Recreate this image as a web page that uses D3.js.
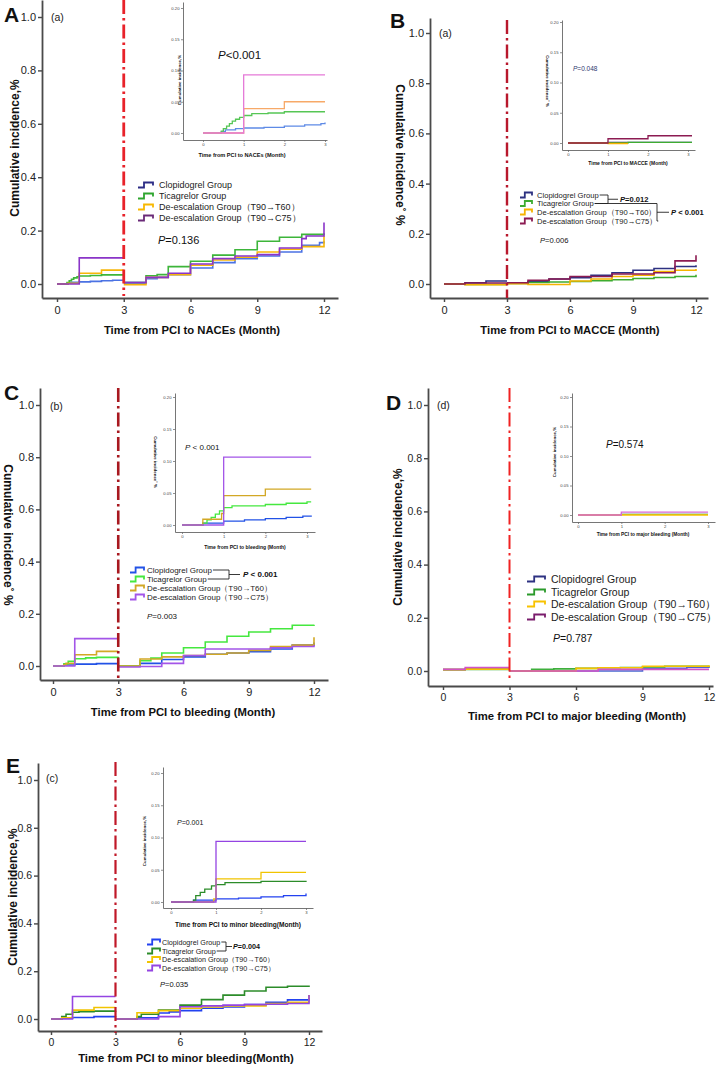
<!DOCTYPE html>
<html>
<head>
<meta charset="utf-8">
<script src="https://cdn.jsdelivr.net/npm/d3@7"></script>
<style>
  body { margin: 0; background: #fff; }
  svg { display: block; }
  text { font-family: "Liberation Sans", Arial, sans-serif; }
</style>
</head>
<body>
<svg id="fig" width="725" height="1065"></svg>
<script>
// ---- data ----
const groups = ["Clopidogrel Group", "Ticagrelor Group", "De-escalation Group（T90→T60）", "De-escalation Group（T90→C75）"];
const mainTicksX = [0, 3, 6, 9, 12];
const mainTicksY = [0, 0.2, 0.4, 0.6, 0.8, 1.0];
const insetTicksX = [0, 1, 2, 3];
const insetTicksY = [0, 0.05, 0.10, 0.15, 0.20];
const landmark = 3; // month where the landmark analysis restarts

// each series: [month, cumulative incidence]; null splits 0-3 and 3-12 segments
const naceMain = [
  [[0,0],[0.5,0.003],[0.6,0.006],[1,0.008],[1.5,0.01],[2,0.012],[2.5,0.014],[3,0.016], null,
   [3,0.005],[4,0.02],[4.5,0.025],[5,0.035],[6,0.06],[7,0.08],[8,0.095],[9,0.105],[10,0.12],[11,0.145],[11.8,0.155],[12,0.16]],
  [[0,0],[0.45,0.005],[0.55,0.012],[0.65,0.018],[0.75,0.023],[0.9,0.027],[1,0.03],[1.5,0.032],[2,0.034],[3,0.034], null,
   [3,0.005],[4,0.031],[4.5,0.035],[5,0.065],[6,0.085],[7,0.108],[8,0.128],[9,0.16],[10,0.175],[11,0.186],[12,0.19]],
  [[0,0],[0.5,0.003],[1,0.04],[2,0.052],[3,0.052], null,
   [3,-0.003],[4,0.025],[5,0.035],[6,0.07],[7,0.09],[8,0.1],[9,0.12],[10,0.13],[11,0.14],[12,0.15],[12,0.18]],
  [[0,0],[1,0.098],[3,0.098], null,
   [3,0.005],[4,0.025],[5,0.04],[6,0.075],[7,0.095],[8,0.105],[9,0.11],[10,0.135],[11,0.17],[11.2,0.18],[12,0.18],[12,0.23]]
];
const naceInset = [
  [[0,0],[0.45,0.002],[0.55,0.005],[0.8,0.007],[1,0.008],[1.5,0.009],[2,0.011],[2.5,0.013],[2.9,0.015],[3,0.017]],
  [[0,0],[0.45,0.003],[0.5,0.007],[0.58,0.011],[0.65,0.015],[0.72,0.019],[0.8,0.022],[0.9,0.025],[1,0.028],[1.2,0.031],[1.6,0.032],[2,0.034],[3,0.034]],
  [[0,0],[1,0.039],[2,0.05],[3,0.05]],
  [[0,0],[1,0.093],[3,0.093]]
];

const macceMain = [
  [[0,0],[1,0.005],[2,0.012],[3,0.012], null,
   [3,0.005],[4,0.01],[5,0.02],[6,0.025],[7,0.035],[8,0.045],[9,0.055],[10,0.062],[11,0.07],[12,0.075]],
  [[0,0],[1,-0.002],[3,-0.002], null,
   [3,0.002],[4,0.006],[5,0.008],[6,0.01],[7,0.013],[8,0.017],[9,0.022],[10,0.026],[11,0.03],[12,0.037]],
  [[0,0],[1,-0.003],[3,-0.003], null,
   [3,0.001],[4,-0.002],[6,0.012],[7,0.02],[8,0.03],[9,0.035],[10,0.05],[11,0.055],[12,0.06]],
  [[0,0],[1,0.004],[3,0.004], null,
   [3,0.005],[4,0.015],[5,0.02],[6,0.03],[7,0.03],[8,0.04],[9,0.04],[10,0.045],[11,0.092],[12,0.095],[12,0.115]]
];
const macceInset = [
  [[0,0],[1,0.001],[3.1,0.001]],
  [[0,0],[1.5,0.001],[3.1,0.001]],
  [[0,0],[1,-0.0008],[1.5,-0.0008]],
  [[0,0],[1,0.007],[2,0.012],[3.1,0.012]]
];

const bleedMain = [
  [[0,0],[0.5,0.004],[1,0.007],[2,0.009],[3,0.012], null,
   [3,0],[4,0.01],[5,0.025],[6,0.035],[7,0.045],[8,0.05],[9,0.055],[10,0.065],[11,0.08],[12,0.09]],
  [[0,0],[0.5,0.008],[0.7,0.018],[1,0.028],[1.5,0.031],[2,0.033],[3,0.035], null,
   [3,0],[4,0.02],[4.5,0.03],[5,0.05],[6,0.07],[7,0.092],[8,0.114],[9,0.13],[10,0.143],[11,0.156],[12,0.158]],
  [[0,0],[0.5,0.005],[0.6,0.01],[1,0.043],[2,0.056],[3,0.056], null,
   [3,0],[4,0.027],[5,0.035],[6,0.04],[7,0.045],[8,0.05],[9,0.06],[10,0.075],[11,0.08],[12,0.085],[12,0.11]],
  [[0,0],[1,0.105],[3,0.105], null,
   [3,-0.004],[4,-0.002],[5,0.01],[6,0.04],[7,0.065],[8,0.065],[9,0.065],[10,0.07],[11,0.075],[12,0.08]]
];
const bleedInset = [
  [[0,0],[0.5,0.003],[1,0.006],[1.5,0.008],[2,0.01],[2.5,0.012],[2.9,0.014],[3.1,0.015]],
  [[0,0],[0.5,0.003],[0.6,0.008],[0.7,0.012],[0.8,0.017],[0.9,0.022],[1,0.027],[1.2,0.03],[2,0.032],[2.5,0.034],[3,0.036],[3.1,0.036]],
  [[0,0],[0.5,0.009],[0.95,0.018],[1,0.046],[2,0.056],[3.1,0.056]],
  [[0,0],[1,0.106],[3.1,0.106]]
];

const majorMain = [
  [[0,0.005],[1,0.008],[3,0.008], null, [3,0],[9,0.01],[11,0.014],[12,0.015]],
  [[0,0.005],[1,0.006],[3,0.006], null, [3,0],[4,0.006],[5,0.008],[6,0.01],[7,0.012],[8,0.013],[9,0.015],[10,0.018],[12,0.02]],
  [[0,0.005],[1,0.007],[3,0.007], null, [3,0],[6,0.01],[7,0.012],[9,0.018],[12,0.022]],
  [[0,0.006],[1,0.013],[3,0.013], null, [3,0],[7,0.006],[12,0.006]]
];
const majorInset = [
  [[0,0],[1,0.001],[3,0.001]],
  [[0,0],[1,0.001],[3,0.001]],
  [[0,0],[3,0]],
  [[0,0],[1,0.005],[3,0.005]]
];

const minorMain = [
  [[0,0],[0.5,0.003],[1,0.006],[2,0.01],[3,0.013], null,
   [3,0],[4,0.005],[5,0.025],[5.5,0.03],[6,0.035],[7,0.045],[8,0.05],[9,0.06],[10,0.07],[11,0.08],[12,0.087]],
  [[0,0],[0.5,0.01],[0.7,0.02],[1,0.028],[1.3,0.031],[2,0.033],[3,0.035], null,
   [3,0],[4,0.01],[4.2,0.02],[5,0.037],[6,0.058],[7,0.081],[8,0.1],[9,0.117],[10,0.133],[11,0.137],[12,0.14]],
  [[0,0],[0.5,0.005],[1,0.037],[2,0.048],[3,0.048], null,
   [3,0],[4,0.026],[5,0.035],[6,0.045],[7,0.05],[8,0.055],[9,0.055],[10,0.065],[11,0.07],[12,0.08],[12,0.1]],
  [[0,0],[1,0.094],[3,0.094], null,
   [3,0],[5,0.01],[6,0.051],[7,0.055],[8,0.058],[9,0.06],[10,0.062],[11,0.065],[12,0.068],[12,0.1]]
];
const minorInset = [
  [[0,0],[0.5,0.003],[1,0.005],[1.5,0.006],[2,0.008],[2.5,0.01],[3,0.013]],
  [[0,0],[0.5,0.003],[0.55,0.01],[0.65,0.015],[0.75,0.02],[0.9,0.025],[1,0.027],[1.2,0.03],[2,0.032],[3,0.033]],
  [[0,0],[0.95,0.005],[1,0.036],[2,0.046],[3,0.046]],
  [[0,0],[1,0.094],[3,0.094]]
];

// ---- layout / styling per panel ----
const panels = [
  {
    letter: "A", letterXY: [4, 22], sub: "(a)", subXY: [51, 21],
    main: { data: naceMain, x0: 57, x12: 324, y0: 284, y1: 17, axL: 42, axT: 0, axB: 298, axR: 338, tickSize: 11 },
    yTitle: { text: "Cumulative incidence,%", x: 19, y: 148, rot: -90 },
    xTitle: { text: "Time from PCI to NACEs (Month)", x: 192, y: 334 },
    red: { color: "#e8222a", width: 2.8, top: 0, bottom: 296 },
    colors: ["#4b72e3", "#3db53a", "#f6b60a", "#8a35c8"],
    legendColors: ["#2c2c85", "#2ea52e", "#f8b800", "#6a2a78"],
    inset: { data: naceInset, colors: ["#5e8ae6", "#56c655", "#f7a968", "#e57ad8"],
      x0: 203, x3: 325, y0: 133, y20: 8, axL: 183, axT: 2, axB: 140, axR: 327,
      title: "Time from PCI to NACEs (Month)", tX: 242, tY: 157, tSize: 5.6,
      yTitle: "Cumulative incidence,%", yX: 181, yY: 80, yRot: -90 },
    insetP: { text: "P<0.001", x: 218, y: 59, size: 11.5 },
    legend: { symX: 138, symW: 15, textX: 159, rows: [185, 196, 207, 218], size: 9 },
    mainP: { text: "P=0.136", x: 158, y: 244, size: 11 },
    brackets: []
  },
  {
    letter: "B", letterXY: [390, 28], sub: "(a)", subXY: [439, 37],
    main: { data: macceMain, x0: 444, x12: 696, y0: 284, y1: 33, axL: 430, axT: 18, axB: 298, axR: 708, tickSize: 11 },
    yTitle: { text: "Cumulative incidence˚ %", x: 396, y: 155, rot: 90 },
    xTitle: { text: "Time from PCI to MACCE (Month)", x: 570, y: 334 },
    red: { color: "#b8182c", width: 2.4, top: 20, bottom: 298 },
    colors: ["#2d3181", "#3eac30", "#f5b400", "#8c1b52"],
    legendColors: ["#2d3181", "#3eac30", "#f5b400", "#8c1b52"],
    inset: { data: macceInset, colors: ["#2d3181", "#3eac30", "#f5b400", "#8c1b52"],
      x0: 568, x3: 688, y0: 143, y20: 22, axL: 562, axT: 20, axB: 150, axR: 695,
      title: "Time from PCI to MACCE (Month)", tX: 628, tY: 165, tSize: 5,
      yTitle: "Cumulative incidence˚ %", yX: 546, yY: 81, yRot: 90 },
    insetP: { text: "P=0.048", x: 573, y: 71, size: 6.5, fill: "#2d3870" },
    legend: { symX: 520, symW: 12, textX: 537, rows: [195, 203.5, 212, 221], size: 7.6 },
    mainP: { text: "P=0.006", x: 540, y: 243, size: 7.6 },
    brackets: [
      { rows: [0, 1], x: 608, stub: 618, label: "P=0.012", lx: 620 },
      { rows: [1, 3], x: 657, stub: 669, label: "P < 0.001", lx: 671 }
    ]
  },
  {
    letter: "C", letterXY: [4, 400], sub: "(b)", subXY: [50, 410],
    main: { data: bleedMain, x0: 53, x12: 314, y0: 666, y1: 405, axL: 40, axT: 388, axB: 680, axR: 328, tickSize: 11 },
    yTitle: { text: "Cumulative incidence˚ %", x: 4, y: 535, rot: 90 },
    xTitle: { text: "Time from PCI to bleeding (Month)", x: 183, y: 716 },
    red: { color: "#a8181f", width: 2.6, top: 388, bottom: 682 },
    colors: ["#2252e6", "#45e83f", "#d2a825", "#a355e8"],
    legendColors: ["#2252e6", "#45e83f", "#d2a825", "#a355e8"],
    inset: { data: bleedInset, colors: ["#2252e6", "#45e83f", "#d2a825", "#a355e8"],
      x0: 182, x3: 307, y0: 525, y20: 397, axL: 175, axT: 393, axB: 532, axR: 315,
      title: "Time from PCI to bleeding (Month)", tX: 245, tY: 549, tSize: 5,
      yTitle: "Cumulative incidence˚ %", yX: 154, yY: 462, yRot: 90 },
    insetP: { text: "P < 0.001", x: 185, y: 450, size: 8 },
    legend: { symX: 130, symW: 14, textX: 147, rows: [570, 579, 588, 597], size: 8 },
    mainP: { text: "P=0.003", x: 147, y: 619, size: 8 },
    brackets: [
      { rows: [0, 1], x: 229, stub: 240, label: "P < 0.001", lx: 243 }
    ]
  },
  {
    letter: "D", letterXY: [386, 410], sub: "(d)", subXY: [437, 409],
    main: { data: majorMain, x0: 443, x12: 709, y0: 671, y1: 405, axL: 428, axT: 388, axB: 686, axR: 713, tickSize: 10.5 },
    yTitle: { text: "Cumulative incidence,%", x: 402, y: 537, rot: -90 },
    xTitle: { text: "Time from PCI to major bleeding (Month)", x: 577, y: 720 },
    red: { color: "#f02222", width: 2, top: 388, bottom: 682 },
    colors: ["#4a68cf", "#3faf3d", "#f8c200", "#d352c6"],
    legendColors: ["#2d3181", "#2a9a2a", "#f8c200", "#7a1c6c"],
    inset: { data: majorInset, colors: ["#5a7ad0", "#88c040", "#f8c200", "#d868d6"],
      x0: 578, x3: 708, y0: 515, y20: 397, axL: 572, axT: 393, axB: 522, axR: 715,
      title: "Time from PCI to major bleeding (Month)", tX: 643, tY: 536, tSize: 4.8,
      yTitle: "Cumulative incidence,%", yX: 556, yY: 452, yRot: -90 },
    insetP: { text: "P=0.574", x: 606, y: 448, size: 10 },
    legend: { symX: 527, symW: 18, textX: 551, rows: [579, 592, 604, 617], size: 10.5 },
    mainP: { text: "P=0.787", x: 553, y: 642, size: 10.5 },
    brackets: []
  },
  {
    letter: "E", letterXY: [6, 773], sub: "(c)", subXY: [46, 782],
    main: { data: minorMain, x0: 51, x12: 309, y0: 1019, y1: 780, axL: 38, axT: 763, axB: 1031, axR: 322, tickSize: 10.5 },
    yTitle: { text: "Cumulative incidence,%", x: 17, y: 897, rot: -90 },
    xTitle: { text: "Time from PCI to minor bleeding(Month)", x: 186, y: 1062 },
    red: { color: "#c01828", width: 2.2, top: 762, bottom: 1033 },
    colors: ["#2342f0", "#2c8c2a", "#f1c400", "#9444e2"],
    legendColors: ["#2342f0", "#2c8c2a", "#f1c400", "#9444e2"],
    inset: { data: minorInset, colors: ["#2342f0", "#2c8c2a", "#f1c400", "#9444e2"],
      x0: 171, x3: 306, y0: 902, y20: 773, axL: 163, axT: 767, axB: 908, axR: 313,
      title: "Time from PCI to minor bleeding(Month)", tX: 238, tY: 927, tSize: 6.6,
      yTitle: "Cumulative incidence,%", yX: 146, yY: 841, yRot: -90 },
    insetP: { text: "P=0.001", x: 177, y: 825, size: 7 },
    legend: { symX: 147, symW: 13, textX: 162, rows: [942, 951, 959.5, 968], size: 7.2 },
    mainP: { text: "P=0.035", x: 160, y: 987, size: 7.5 },
    brackets: [
      { rows: [0, 1], x: 226, stub: 232, label: "P=0.004", lx: 233 }
    ]
  }
];

const svg = d3.select("#fig");
const font = '"Liberation Sans", Arial, sans-serif';

function styleAxis(sel, color, width, size, fill) {
  sel.attr("font-family", font).attr("font-size", size);
  sel.select(".domain").attr("stroke", color).attr("stroke-width", width);
  sel.selectAll(".tick line").attr("stroke", color).attr("stroke-width", width * 0.8);
  sel.selectAll(".tick text").attr("fill", fill);
}

// italic "P" followed by the rest of the label
function pText(g, label, x, y, size, weight, fill) {
  const t = g.append("text").attr("x", x).attr("y", y)
    .attr("font-size", size).attr("font-weight", weight || "normal").attr("fill", fill || "#111");
  t.append("tspan").attr("font-style", "italic").text(label[0]);
  t.append("tspan").text(label.slice(1));
  return t;
}

function rotText(g, text, x, y, rot, size, weight) {
  g.append("text").attr("transform", `translate(${x},${y}) rotate(${rot})`)
    .attr("text-anchor", "middle").attr("font-size", size).attr("font-weight", weight)
    .attr("fill", "#111").text(text);
}

function drawPanel(p) {
  const g = svg.append("g");
  const m = p.main;

  const x = d3.scaleLinear().domain([0, 12]).range([m.x0, m.x12]);
  const y = d3.scaleLinear().domain([0, 1]).range([m.y0, m.y1]);
  // axis scales stretched so the axis lines run the full frame
  const xAx = x.copy().domain([x.invert(m.axL), x.invert(m.axR)]).range([m.axL, m.axR]);
  const yAx = y.copy().domain([y.invert(m.axB), y.invert(m.axT)]).range([m.axB, m.axT]);

  g.append("g").attr("transform", `translate(0,${m.axB})`)
    .call(d3.axisBottom(xAx).tickValues(mainTicksX).tickSize(4).tickSizeOuter(0).tickPadding(4).tickFormat(d3.format("d")))
    .call(s => styleAxis(s, "#4a4a4a", 1.8, m.tickSize, "#222"));
  g.append("g").attr("transform", `translate(${m.axL},0)`)
    .call(d3.axisLeft(yAx).tickValues(mainTicksY).tickSize(4).tickSizeOuter(0).tickPadding(2).tickFormat(d3.format(".1f")))
    .call(s => styleAxis(s, "#4a4a4a", 1.8, m.tickSize, "#222"));

  const line = d3.line().defined(d => d !== null)
    .x(d => x(d[0])).y(d => y(d[1])).curve(d3.curveStepAfter);

  g.append("g").selectAll("path").data(m.data).join("path")
    .attr("d", line).attr("fill", "none")
    .attr("stroke", (d, i) => p.colors[i]).attr("stroke-width", 1.6);

  // landmark line at 3 months
  g.append("line")
    .attr("x1", x(landmark)).attr("x2", x(landmark))
    .attr("y1", p.red.top).attr("y2", p.red.bottom)
    .attr("stroke", p.red.color).attr("stroke-width", p.red.width)
    .attr("stroke-dasharray", "14,4,2.5,4");

  // titles
  g.append("text").attr("x", p.letterXY[0]).attr("y", p.letterXY[1])
    .attr("font-size", 21).attr("font-weight", "bold").attr("fill", "#111").text(p.letter);
  g.append("text").attr("x", p.subXY[0]).attr("y", p.subXY[1])
    .attr("font-size", 10.5).attr("fill", "#222").text(p.sub);
  rotText(g, p.yTitle.text, p.yTitle.x, p.yTitle.y, p.yTitle.rot, 12, "bold");
  g.append("text").attr("x", p.xTitle.x).attr("y", p.xTitle.y).attr("text-anchor", "middle")
    .attr("font-size", 11.3).attr("font-weight", "bold").attr("fill", "#111").text(p.xTitle.text);

  // inset: first 3 months enlarged
  const n = p.inset;
  const ix = d3.scaleLinear().domain([0, 3]).range([n.x0, n.x3]);
  const iy = d3.scaleLinear().domain([0, 0.2]).range([n.y0, n.y20]);
  const ixAx = ix.copy().domain([ix.invert(n.axL), ix.invert(n.axR)]).range([n.axL, n.axR]);
  const iyAx = iy.copy().domain([iy.invert(n.axB), iy.invert(n.axT)]).range([n.axB, n.axT]);

  g.append("g").attr("transform", `translate(0,${n.axB})`)
    .call(d3.axisBottom(ixAx).tickValues(insetTicksX).tickSize(2).tickSizeOuter(0).tickPadding(1.5).tickFormat(d3.format("d")))
    .call(s => styleAxis(s, "#666", 0.9, 4.2, "#444"));
  g.append("g").attr("transform", `translate(${n.axL},0)`)
    .call(d3.axisLeft(iyAx).tickValues(insetTicksY).tickSize(2).tickSizeOuter(0).tickPadding(1.5).tickFormat(d3.format(".2f")))
    .call(s => styleAxis(s, "#666", 0.9, 4.2, "#444"));

  const iline = d3.line().x(d => ix(d[0])).y(d => iy(d[1])).curve(d3.curveStepAfter);
  g.append("g").selectAll("path").data(n.data).join("path")
    .attr("d", iline).attr("fill", "none")
    .attr("stroke", (d, i) => n.colors[i]).attr("stroke-width", 1.3);

  g.append("text").attr("x", n.tX).attr("y", n.tY).attr("text-anchor", "middle")
    .attr("font-size", n.tSize).attr("font-weight", "bold").attr("fill", "#111").text(n.title);
  rotText(g, n.yTitle, n.yX, n.yY, n.yRot, 4.4, "bold");
  pText(g, p.insetP.text, p.insetP.x, p.insetP.y, p.insetP.size, "normal", p.insetP.fill);

  // legend with step-shaped keys
  const L = p.legend;
  const labels = [];
  groups.forEach((name, i) => {
    const ry = L.rows[i];
    const w = L.symW;
    g.append("path")
      .attr("d", `M${L.symX},${ry + 2.5}h${w * 0.4}v-5h${w * 0.6}v3`)
      .attr("fill", "none").attr("stroke", p.legendColors[i]).attr("stroke-width", 1.8);
    labels.push(g.append("text").attr("x", L.textX).attr("y", ry).attr("dy", "0.35em")
      .attr("font-size", L.size).attr("fill", "#222").text(name));
  });

  p.brackets.forEach(b => {
    const ys = b.rows.map(r => L.rows[r]);
    b.rows.forEach((r, k) => {
      const end = L.textX + labels[r].node().getComputedTextLength() + 1;
      g.append("line").attr("x1", end).attr("x2", b.x).attr("y1", ys[k]).attr("y2", ys[k])
        .attr("stroke", "#222").attr("stroke-width", 0.9);
    });
    const mid = (ys[0] + ys[ys.length - 1]) / 2;
    g.append("line").attr("x1", b.x).attr("x2", b.x).attr("y1", ys[0]).attr("y2", ys[ys.length - 1])
      .attr("stroke", "#222").attr("stroke-width", 0.9);
    g.append("line").attr("x1", b.x).attr("x2", b.stub).attr("y1", mid).attr("y2", mid)
      .attr("stroke", "#222").attr("stroke-width", 0.9);
    pText(g, b.label, b.lx, mid, L.size, "bold").attr("dy", "0.35em");
  });

  pText(g, p.mainP.text, p.mainP.x, p.mainP.y, p.mainP.size, "normal");
}

panels.forEach(drawPanel);
</script>
</body>
</html>
